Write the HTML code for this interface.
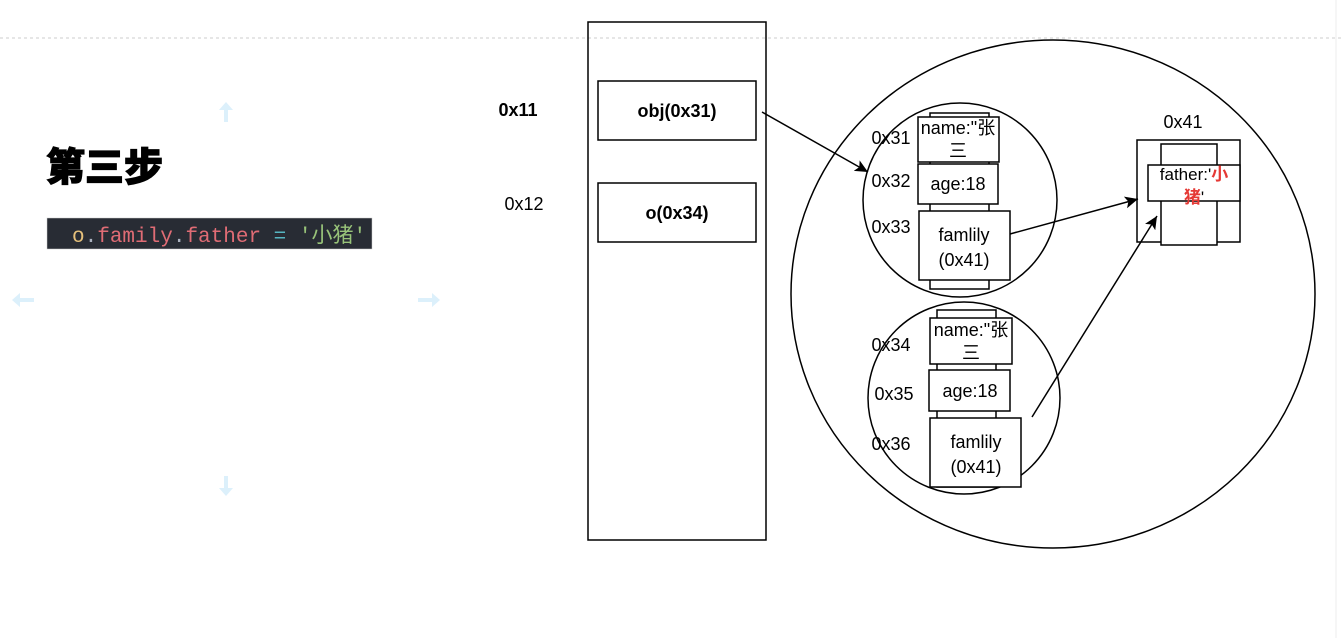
<!DOCTYPE html>
<html><head><meta charset="utf-8"><style>
body{margin:0;width:1341px;height:638px;background:#fff;overflow:hidden;font-family:"Liberation Sans","Noto Sans CJK SC",sans-serif}
</style></head><body>
<svg width="1341" height="638" xmlns="http://www.w3.org/2000/svg" style="position:absolute;left:0;top:0">
<defs><marker id="a" markerWidth="14" markerHeight="14" refX="13" refY="6" orient="auto" markerUnits="userSpaceOnUse"><path d="M0,0 L13,6 L0,12 L3,6z" fill="#000"/></marker></defs>
<line x1="0" y1="38" x2="1341" y2="38" stroke="#ccc" stroke-dasharray="3,3"/>
<line x1="1336" y1="0" x2="1336" y2="638" stroke="#eee"/>
<g fill="#dcf0fb">
<path d="M226,102 l-7,8 h5 v12 h4 v-12 h5z"/>
<path d="M226,496 l-7,-8 h5 v-12 h4 v12 h5z"/>
<path d="M12,300 l8,-7 v5 h14 v4 h-14 v5z"/>
<path d="M440,300 l-8,-7 v5 h-14 v4 h14 v5z"/>
</g>
<text x="46" y="181" font-size="39" font-weight="900" stroke="#000" stroke-width="1.2" font-family="Noto Sans CJK SC,sans-serif">第三步</text>
<rect x="47" y="218" width="325" height="31" fill="#282c34" stroke="#ccc" stroke-width="0.5"/>
<text x="72" y="242" font-size="21" font-family="Liberation Mono,Noto Sans CJK SC,monospace"><tspan fill="#e5c07b">o</tspan><tspan fill="#abb2bf">.</tspan><tspan fill="#e06c75">family</tspan><tspan fill="#abb2bf">.</tspan><tspan fill="#e06c75">father</tspan><tspan fill="#56b6c2"> = </tspan><tspan fill="#98c379">'小猪'</tspan></text>
<g fill="none" stroke="#000" stroke-width="1.5">
<rect x="588" y="22" width="178" height="518"/>
<rect x="598" y="81" width="158" height="59"/>
<rect x="598" y="183" width="158" height="59"/>
<ellipse cx="1053" cy="294" rx="262" ry="254"/>
<circle cx="960" cy="200" r="97"/>
<circle cx="964" cy="398" r="96"/>
</g>
<g fill="#fff" stroke="#000" stroke-width="1.5">
<rect x="930" y="113" width="59" height="176"/>
<rect x="918" y="117" width="81" height="45"/>
<rect x="918" y="164" width="80" height="40"/>
<rect x="919" y="211" width="91" height="69"/>
<rect x="937" y="310" width="59" height="177"/>
<rect x="930" y="318" width="82" height="46"/>
<rect x="929" y="370" width="81" height="41"/>
<rect x="930" y="418" width="91" height="69"/>
<rect x="1137" y="140" width="103" height="102"/>
<rect x="1161" y="144" width="56" height="101"/>
<rect x="1148" y="165" width="92" height="36"/>
</g>
<g stroke="#000" stroke-width="1.5" marker-end="url(#a)">
<line x1="762" y1="112" x2="868" y2="172"/>
<line x1="1010" y1="234" x2="1138" y2="199"/>
<line x1="1032" y1="417" x2="1157" y2="216"/>
</g>
<g font-size="18" text-anchor="middle">
<text x="677" y="117" font-weight="bold">obj(0x31)</text>
<text x="677" y="219" font-weight="bold">o(0x34)</text>
<text x="518" y="116" font-weight="bold">0x11</text>
<text x="524" y="210">0x12</text>
<text x="891" y="144">0x31</text>
<text x="891" y="187">0x32</text>
<text x="891" y="233">0x33</text>
<text x="891" y="351">0x34</text>
<text x="894" y="400">0x35</text>
<text x="891" y="450">0x36</text>
<text x="1183" y="128">0x41</text>
<text x="958" y="134">name:"张</text>
<text x="958" y="157">三</text>
<text x="958" y="190">age:18</text>
<text x="964" y="241">famlily</text>
<text x="964" y="266">(0x41)</text>
<text x="971" y="336">name:"张</text>
<text x="971" y="359">三</text>
<text x="970" y="397">age:18</text>
<text x="976" y="448">famlily</text>
<text x="976" y="473">(0x41)</text>
<text x="1194" y="180" font-size="17">father:'<tspan fill="#e53935" font-weight="bold">小</tspan></text>
<text x="1194" y="203" font-size="17"><tspan fill="#e53935" font-weight="bold">猪</tspan>'</text>
</g>
</svg>
</body></html>
